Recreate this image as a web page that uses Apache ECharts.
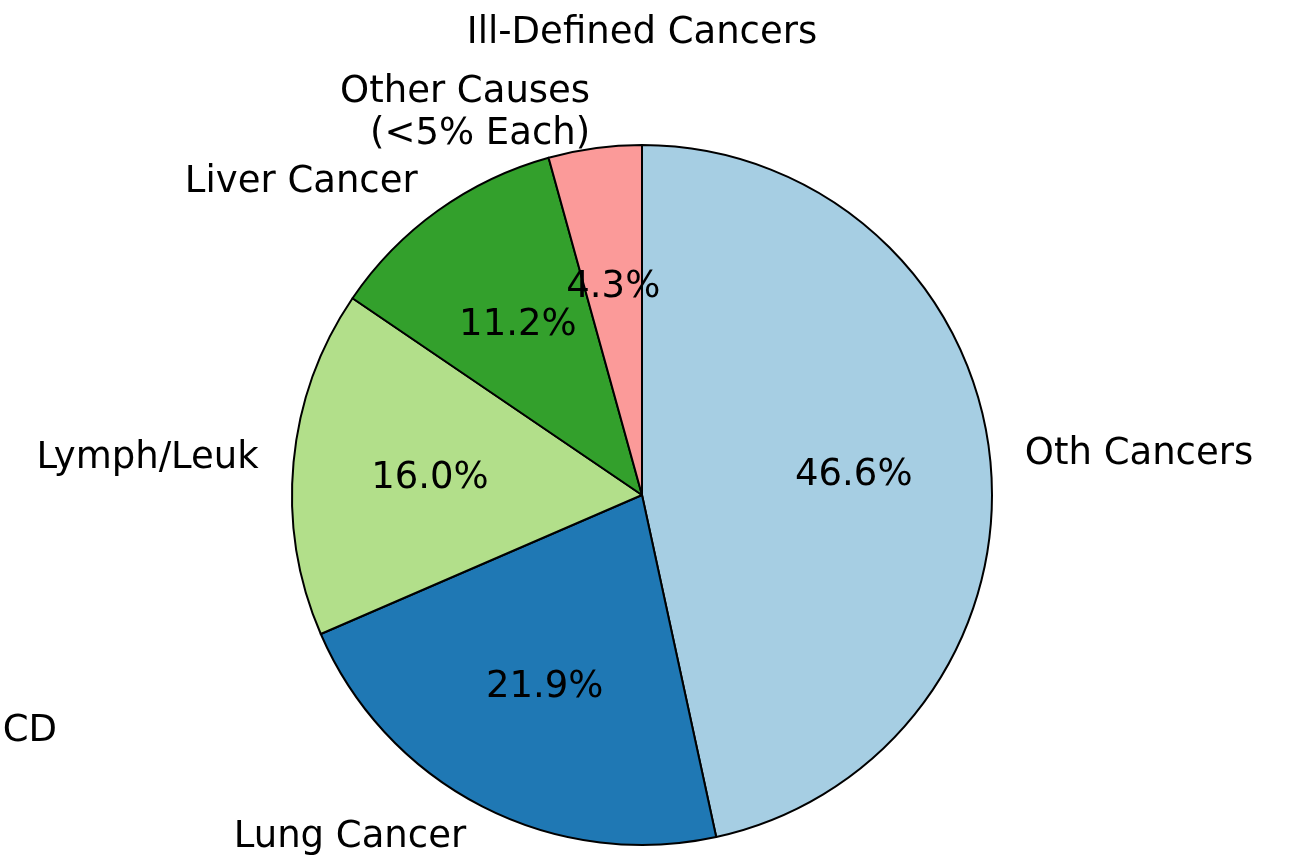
<!DOCTYPE html>
<html>
<head>
<meta charset="utf-8">
<script src="https://cdn.jsdelivr.net/npm/echarts@6/dist/echarts.min.js"></script>
<style>html,body{margin:0;padding:0;background:#fff}#c{width:1303px;height:868px}</style>
</head>
<body>
<div id="c"></div>
<script>
const categories = ['Oth Cancers', 'Lung Cancer', 'Lymph/Leuk', 'Liver Cancer', 'Other Causes\n(<5% Each)'];
const values = [46.6, 21.9, 16.0, 11.2, 4.3];
const colors = ['#a6cee3', '#1f78b4', '#b2df8a', '#33a02c', '#fb9a99'];
const strayLabels = ['Ill-Defined Cancers', 'CD'];

const FONT = 'DejaVu Sans';
const FS = 37;
const CX = 642, CY = 495, R = 350;

const chart = echarts.init(document.getElementById('c'), null, {renderer: 'canvas'});
const data = categories.map((n, i) => ({name: n, value: values[i], itemStyle: {color: colors[i]}}));

chart.setOption({
  animation: false,
  backgroundColor: '#ffffff',
  series: [
    {
      type: 'pie',
      center: [CX, CY],
      radius: [0, R],
      startAngle: 90,
      clockwise: true,
      avoidLabelOverlap: false,
      itemStyle: {borderColor: '#000', borderWidth: 2},
      emphasis: {disabled: true},
      label: {
        show: true, position: 'outside', color: '#000',
        fontFamily: FONT, fontSize: FS, lineHeight: 42,
        distanceToLabelLine: 0, formatter: '{b}'
      },
      labelLine: {show: false, length: R * 0.1, length2: 0},
      data: data
    },
    {
      type: 'pie',
      center: [CX, CY],
      radius: [0, R * 1.2],
      startAngle: 90,
      clockwise: true,
      silent: true,
      z: 5,
      avoidLabelOverlap: false,
      itemStyle: {color: 'rgba(0,0,0,0)', borderWidth: 0},
      emphasis: {disabled: true},
      label: {
        show: true, position: 'inside', color: '#000',
        fontFamily: FONT, fontSize: FS, offset: [0, 3],
        formatter: p => p.percent.toFixed(1) + '%'
      },
      labelLine: {show: false},
      data: categories.map((n, i) => ({name: n, value: values[i]}))
    }
  ],
  graphic: [
    {type: 'text', x: 642, y: 33, style: {text: strayLabels[0], font: FS + 'px "' + FONT + '"', fill: '#000', align: 'center', verticalAlign: 'middle'}},
    {type: 'text', x: 57, y: 731, style: {text: strayLabels[1], font: FS + 'px "' + FONT + '"', fill: '#000', align: 'right', verticalAlign: 'middle'}}
  ]
});
</script>
</body>
</html>
